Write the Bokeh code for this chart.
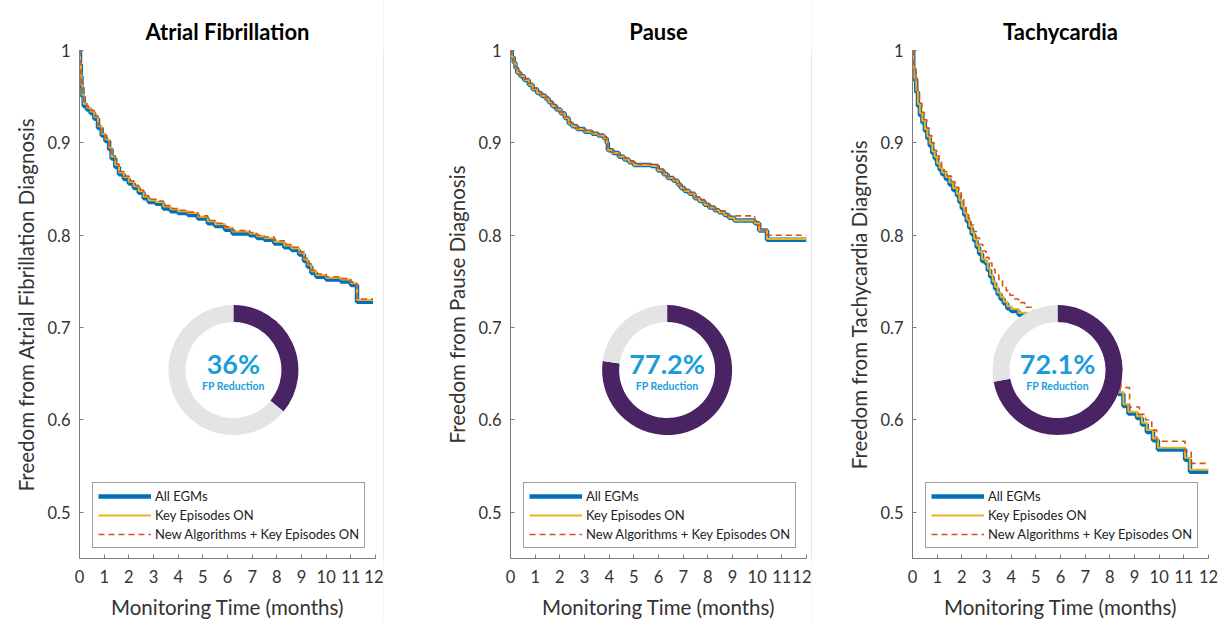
from math import pi
from bokeh.plotting import figure
from bokeh.layouts import row
from bokeh.models import Range1d, FixedTicker, CustomJSTickFormatter, Legend, LegendItem
from bokeh.embed import file_html
from bokeh.resources import INLINE
from bokeh.core.properties import value

# ---------------- data ----------------
titles = ["Atrial Fibrillation", "Pause", "Tachycardia"]
ylabels = ["Freedom from Atrial Fibrillation Diagnosis",
           "Freedom from Pause Diagnosis",
           "Freedom from Tachycardia Diagnosis"]
xlabel = "Monitoring Time (months)"
series_names = ["All EGMs", "Key Episodes ON", "New Algorithms + Key Episodes ON"]
x_ticks = [0, 1, 2, 3, 4, 5, 6, 7, 8, 9, 10, 11, 12]
y_ticks = [0.5, 0.6, 0.7, 0.8, 0.9, 1.0]
fp_reduction = [36, 77.2, 72.1]

# Atrial fibrillation
af_t = [0, 0.02, 0.05, 0.08, 0.12, 0.17, 0.3, 0.45, 0.6, 0.75, 0.9, 1.05, 1.2, 1.3, 1.45, 1.6,
        1.8, 2.0, 2.2, 2.4, 2.6, 2.8, 3.1, 3.4, 3.7, 4.0, 4.4, 4.8, 5.2, 5.5, 5.9, 6.2, 6.9, 7.2,
        7.5, 7.9, 8.3, 8.6, 8.9, 9.1, 9.25, 9.4, 9.6, 10.0, 10.6, 11.0, 11.25, 11.9]
af_all = [1.0, 0.985, 0.972, 0.96, 0.95, 0.94, 0.936, 0.932, 0.926, 0.916, 0.908, 0.902, 0.893,
          0.883, 0.874, 0.866, 0.861, 0.856, 0.851, 0.846, 0.840, 0.836, 0.834, 0.829, 0.826,
          0.824, 0.822, 0.818, 0.813, 0.810, 0.806, 0.802, 0.800, 0.797, 0.795, 0.791, 0.787,
          0.784, 0.779, 0.772, 0.766, 0.759, 0.755, 0.752, 0.750, 0.746, 0.728, 0.728]
af_key = [1.0, 0.987, 0.974, 0.962, 0.952, 0.942, 0.938, 0.934, 0.928, 0.918, 0.910, 0.904, 0.895,
          0.885, 0.876, 0.868, 0.863, 0.858, 0.853, 0.848, 0.842, 0.838, 0.836, 0.831, 0.828,
          0.826, 0.824, 0.820, 0.815, 0.812, 0.808, 0.804, 0.802, 0.799, 0.797, 0.793, 0.789,
          0.786, 0.781, 0.774, 0.768, 0.761, 0.757, 0.754, 0.752, 0.748, 0.730, 0.730]
af_new = [1.0, 0.988, 0.975, 0.963, 0.953, 0.943, 0.939, 0.935, 0.929, 0.919, 0.911, 0.905, 0.896,
          0.886, 0.877, 0.869, 0.864, 0.859, 0.854, 0.849, 0.843, 0.839, 0.837, 0.832, 0.829,
          0.827, 0.825, 0.821, 0.816, 0.813, 0.809, 0.805, 0.803, 0.800, 0.798, 0.794, 0.790,
          0.787, 0.782, 0.775, 0.769, 0.762, 0.758, 0.755, 0.753, 0.749, 0.731, 0.731]

# Pause
pa_t = [0, 0.05, 0.13, 0.2, 0.27, 0.4, 0.55, 0.74, 0.9, 1.08, 1.25, 1.42, 1.55, 1.69, 1.85, 2.03,
        2.2, 2.36, 2.5, 2.7, 3.0, 3.31, 3.55, 3.78, 3.9, 3.95, 4.15, 4.39, 4.6, 4.8, 5.0, 5.7,
        5.97, 6.2, 6.37, 6.6, 6.78, 6.9, 7.05, 7.25, 7.46, 7.65, 7.86, 8.05, 8.27, 8.45, 8.67,
        8.85, 9.07, 9.9, 10.08, 10.4, 12.0]
pa_all = [1.0, 0.993, 0.987, 0.981, 0.976, 0.972, 0.968, 0.963, 0.958, 0.954, 0.951, 0.948, 0.944,
          0.940, 0.936, 0.932, 0.927, 0.921, 0.918, 0.915, 0.912, 0.910, 0.908, 0.905, 0.900,
          0.892, 0.889, 0.885, 0.882, 0.879, 0.876, 0.875, 0.870, 0.866, 0.862, 0.859, 0.855,
          0.851, 0.848, 0.845, 0.840, 0.837, 0.833, 0.830, 0.827, 0.825, 0.822, 0.819, 0.816,
          0.813, 0.805, 0.795, 0.795]
pa_key = [1.0, 0.993, 0.987, 0.981, 0.976, 0.972, 0.968, 0.963, 0.958, 0.954, 0.951, 0.948, 0.944,
          0.940, 0.936, 0.932, 0.927, 0.921, 0.918, 0.915, 0.912, 0.910, 0.908, 0.905, 0.900,
          0.892, 0.889, 0.885, 0.882, 0.879, 0.876, 0.875, 0.870, 0.866, 0.862, 0.859, 0.855,
          0.851, 0.848, 0.845, 0.840, 0.837, 0.833, 0.830, 0.827, 0.825, 0.822, 0.819, 0.816,
          0.813, 0.805, 0.796, 0.796]
pa_new_t = [0, 0.05, 0.13, 0.2, 0.27, 0.4, 0.55, 0.74, 0.9, 1.08, 1.25, 1.42, 1.55, 1.69, 1.85,
            2.03, 2.2, 2.36, 2.5, 2.7, 3.0, 3.31, 3.55, 3.78, 3.9, 3.95, 4.15, 4.39, 4.6, 4.8,
            5.0, 5.7, 5.97, 6.2, 6.37, 6.6, 6.78, 6.9, 7.05, 7.25, 7.46, 7.65, 7.86, 8.05, 8.27,
            8.45, 8.8, 9.9, 10.15, 10.4, 12.0]
pa_new = [1.0, 0.994, 0.988, 0.982, 0.977, 0.973, 0.969, 0.964, 0.959, 0.955, 0.952, 0.949, 0.945,
          0.941, 0.937, 0.933, 0.928, 0.922, 0.919, 0.916, 0.913, 0.911, 0.909, 0.906, 0.901,
          0.893, 0.890, 0.886, 0.883, 0.880, 0.877, 0.876, 0.871, 0.867, 0.863, 0.860, 0.856,
          0.852, 0.849, 0.846, 0.841, 0.838, 0.834, 0.831, 0.828, 0.826, 0.821, 0.811, 0.805,
          0.800, 0.800]

# Tachycardia
ta_t = [0, 0.03, 0.08, 0.15, 0.22, 0.3, 0.4, 0.5, 0.6, 0.7, 0.8, 0.9, 1.0, 1.1, 1.2, 1.35, 1.5,
        1.65, 1.8, 1.9, 2.0, 2.1, 2.2, 2.3, 2.4, 2.5, 2.6, 2.7, 2.82, 2.97, 3.05, 3.15, 3.25, 3.35,
        3.45, 3.57, 3.7, 3.84, 4.0, 4.3, 4.7, 5.2, 5.7, 6.2, 6.7, 7.2, 7.7, 8.1, 8.35, 8.55, 8.75,
        9.1, 9.3, 9.5, 9.75, 9.95, 11.05, 11.25, 12.0]
ta_all = [1.0, 0.98, 0.968, 0.955, 0.94, 0.93, 0.922, 0.913, 0.905, 0.897, 0.889, 0.883, 0.876,
          0.871, 0.866, 0.861, 0.855, 0.849, 0.843, 0.836, 0.829, 0.822, 0.815, 0.808, 0.801,
          0.794, 0.787, 0.780, 0.772, 0.769, 0.762, 0.755, 0.748, 0.742, 0.736, 0.731, 0.726,
          0.721, 0.718, 0.714, 0.706, 0.698, 0.690, 0.682, 0.673, 0.664, 0.652, 0.641, 0.628,
          0.615, 0.607, 0.602, 0.595, 0.587, 0.578, 0.568, 0.557, 0.544, 0.544]
ta_key = [1.0, 0.982, 0.970, 0.957, 0.942, 0.932, 0.924, 0.915, 0.907, 0.899, 0.891, 0.885, 0.878,
          0.873, 0.868, 0.863, 0.857, 0.851, 0.845, 0.838, 0.831, 0.824, 0.817, 0.810, 0.803,
          0.796, 0.789, 0.782, 0.774, 0.771, 0.764, 0.757, 0.750, 0.744, 0.738, 0.733, 0.728,
          0.723, 0.720, 0.716, 0.708, 0.700, 0.692, 0.684, 0.675, 0.666, 0.654, 0.643, 0.630,
          0.617, 0.609, 0.604, 0.597, 0.589, 0.580, 0.570, 0.559, 0.546, 0.546]
ta_new_t = [0, 0.05, 0.12, 0.2, 0.28, 0.38, 0.48, 0.58, 0.68, 0.78, 0.88, 0.98, 1.08, 1.18, 1.28,
            1.42, 1.58, 1.72, 1.88, 1.98, 2.08, 2.18, 2.28, 2.38, 2.48, 2.6, 2.72, 2.85, 2.98,
            3.1, 3.22, 3.35, 3.5, 3.65, 3.8, 3.95, 4.1, 4.3, 4.55, 4.9, 5.4, 5.9, 6.4, 6.9, 7.4,
            7.9, 8.2, 8.45, 8.8, 9.2, 9.45, 9.7, 9.9, 11.05, 11.3, 12.0]
ta_new = [1.0, 0.982, 0.97, 0.957, 0.943, 0.933, 0.925, 0.916, 0.908, 0.900, 0.892, 0.886, 0.879,
          0.874, 0.869, 0.864, 0.858, 0.852, 0.846, 0.839, 0.832, 0.825, 0.818, 0.811, 0.804,
          0.797, 0.790, 0.783, 0.776, 0.770, 0.763, 0.757, 0.751, 0.745, 0.740, 0.735, 0.731,
          0.727, 0.722, 0.713, 0.704, 0.696, 0.688, 0.679, 0.670, 0.659, 0.647, 0.635, 0.614,
          0.606, 0.600, 0.589, 0.577, 0.566, 0.553, 0.553]

# ---------------- style / layout ----------------
FONT = "Lato"
C_ALL, C_KEY, C_NEW = "#0072BD", "#EDB120", "#D95319"
PURPLE, RING_GRAY, PCT_BLUE = "#4A2365", "#E4E4E4", "#1B9DDA"
AXIS_C, TEXT_C, SEP_C = "#7a7a7a", "#333333", "#d2d2d2"
H = 621
# (fig width, border left, border right, donut centre x, donut centre y)
layout_specs = [(383, 79, 8, 6.24, 0.654), (427, 126, 5, 6.35, 0.654), (410, 100, 14, 5.88, 0.654)]


def make_panel(i, t_all, y_all, t_key, y_key, t_new, y_new):
    w, bl, br, dx, dy = layout_specs[i]
    p = figure(width=w, height=H, x_range=Range1d(0, 12), y_range=Range1d(0.45, 1.0),
               output_backend="svg", toolbar_location=None,
               min_border_left=bl, min_border_right=br, min_border_top=50, min_border_bottom=63)
    p.outline_line_color = None
    p.grid.visible = False
    p.background_fill_color = "white"
    p.border_fill_color = "white"

    p.title.text = titles[i]
    p.title.align = "center"
    p.title.text_font = FONT
    p.title.text_font_size = "22px"
    p.title.text_font_style = "bold"
    p.title.text_color = "#000000"
    p.title.standoff = 12

    for ax in (p.xaxis[0], p.yaxis[0]):
        ax.axis_line_color = AXIS_C
        ax.major_tick_line_color = AXIS_C
        ax.minor_tick_line_color = None
        ax.major_tick_in = 4
        ax.major_tick_out = 0
        ax.major_label_text_font = FONT
        ax.major_label_text_font_size = "16.5px"
        ax.major_label_text_color = TEXT_C
        ax.axis_label_text_font = FONT
        ax.axis_label_text_font_size = "20.5px"
        ax.axis_label_text_font_style = "normal"
        ax.axis_label_text_color = TEXT_C
    p.xaxis.ticker = FixedTicker(ticks=x_ticks)
    p.yaxis.ticker = FixedTicker(ticks=y_ticks)
    p.yaxis.formatter = CustomJSTickFormatter(code="return tick > 0.999 ? '1' : tick.toFixed(1);")
    p.xaxis.axis_label = xlabel
    p.yaxis.axis_label = ylabels[i]
    p.xaxis.major_label_standoff = 11
    p.xaxis.axis_label_standoff = 9
    p.yaxis.major_label_standoff = 9
    p.yaxis.axis_label_standoff = 6

    r1 = p.step(t_all, y_all, mode="after", line_color=C_ALL, line_width=4.5)
    r2 = p.step(t_key, y_key, mode="after", line_color=C_KEY, line_width=2)
    r3 = p.step(t_new, y_new, mode="after", line_color=C_NEW, line_width=1.6, line_dash="6 4")

    # donut
    frac = fp_reduction[i] / 100.0
    p.scatter(x=[dx], y=[dy], size=98, marker="circle", fill_color="white", line_color=None)
    p.annular_wedge(x=[dx], y=[dy], inner_radius=48, outer_radius=65,
                    inner_radius_units="screen", outer_radius_units="screen",
                    start_angle=pi / 2, end_angle=pi / 2 - 2 * pi * frac, direction="clock",
                    fill_color=PURPLE, line_color=None)
    p.annular_wedge(x=[dx], y=[dy], inner_radius=48, outer_radius=65,
                    inner_radius_units="screen", outer_radius_units="screen",
                    start_angle=pi / 2 - 2 * pi * frac, end_angle=pi / 2, direction="clock",
                    fill_color=RING_GRAY, line_color=None)
    p.text(x=[dx], y=[dy], text=[f"{fp_reduction[i]}%"], text_font=value(FONT),
           text_font_size="27px", text_font_style="bold", text_color=PCT_BLUE,
           text_align="center", text_baseline="middle", y_offset=-7)
    p.text(x=[dx], y=[dy], text=["FP Reduction"], text_font=value(FONT),
           text_font_size="10.5px", text_font_style="bold", text_color=PCT_BLUE,
           text_align="center", text_baseline="middle", y_offset=16)

    legend = Legend(items=[LegendItem(label=series_names[0], renderers=[r1]),
                           LegendItem(label=series_names[1], renderers=[r2]),
                           LegendItem(label=series_names[2], renderers=[r3])],
                    location=(13, 10))
    legend.label_text_font = FONT
    legend.label_text_font_size = "13px"
    legend.label_text_color = "#222222"
    legend.glyph_width = 53
    legend.glyph_height = 16
    legend.label_height = 16
    legend.label_standoff = 4
    legend.spacing = 3
    legend.padding = 5
    legend.margin = 0
    legend.border_line_color = "#404040"
    legend.border_line_width = 1
    legend.background_fill_alpha = 1.0
    p.add_layout(legend)
    return p


def separator():
    s = figure(width=1, height=H, x_range=Range1d(0, 1), y_range=Range1d(0, 1),
               x_axis_type=None, y_axis_type=None, output_backend="svg",
               toolbar_location=None, min_border=0)
    s.outline_line_color = None
    s.grid.visible = False
    s.background_fill_color = SEP_C
    s.border_fill_color = SEP_C
    return s


p1 = make_panel(0, af_t, af_all, af_t, af_key, af_t, af_new)
p2 = make_panel(1, pa_t, pa_all, pa_t, pa_key, pa_new_t, pa_new)
p3 = make_panel(2, ta_t, ta_all, ta_t, ta_key, ta_new_t, ta_new)

page = row(p1, separator(), p2, separator(), p3)
open("out.html", "w").write(file_html(page, INLINE))
